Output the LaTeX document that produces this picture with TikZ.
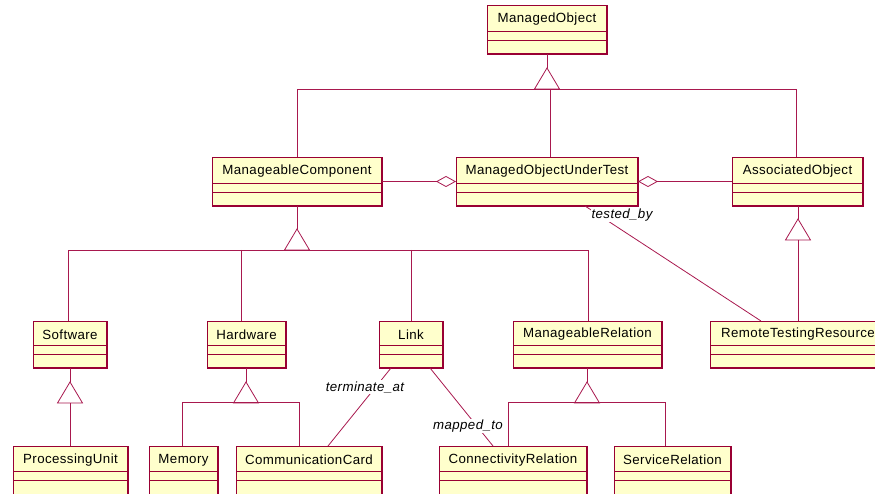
\documentclass[tikz,border=0pt]{standalone}
\usepackage{fontspec}
\setmainfont{Liberation Sans}[LetterSpace=3]
\usetikzlibrary{arrows.meta,calc}
\definecolor{bord}{RGB}{153,0,51}
\definecolor{lcol}{RGB}{168,24,78}
\definecolor{cfill}{RGB}{255,255,204}
\tikzset{
  cls/.style={draw=bord, fill=cfill, line width=0.8pt, rectangle, inner sep=0pt, outer sep=0pt},
  divline/.style={draw=bord, line width=0.8pt},
  edgeline/.style={draw=bord, line width=1.6pt},
  ctext/.style={font=\fontsize{13.3}{15}\selectfont, text=black, inner sep=0pt},
  conn/.style={draw=lcol, line width=0.8pt},
  gentri/.style={draw=lcol, line width=0.8pt, fill=white},
  agg/.style={conn, -{Diamond[open, fill=white, length=20pt, width=11pt]}},
  lab/.style={font=\fontsize{13.3}{15}\selectfont\itshape, text=black, fill=white, inner sep=1pt},
}
% name, x1, y1, x2, y2, first divider y, text
\newcommand\umlclass[7]{%
  \node[cls, anchor=north west, minimum width={(#4-(#2))*1pt}, minimum height={(#5-(#3))*1pt}] (#1) at (#2,#3) {};
  \draw[divline] (#2,#6) -- (#4,#6);
  \draw[divline] (#2,{#6+9}) -- (#4,{#6+9});
  \draw[edgeline] (#1.south west) -- (#1.south east) -- (#1.north east);
  \node[ctext] (#1-t) at ([yshift={-(#6-(#3))/2*1pt-1.5pt}]#1.north) {#7};
}
% apex name, x, y : open triangle pointing up, apex at (x,y), base 21 lower
\newcommand\gentriangle[3]{%
  \coordinate (#1) at (#2,#3);
  \draw[gentri] (#1) -- ++(-12.5,21) coordinate (#1-bl) -- ++(25,0) coordinate (#1-br) -- cycle;
  \coordinate (#1-base) at (#2,{#3+21});
}
\begin{document}
\begin{tikzpicture}[x=1pt,y=-1pt]
\useasboundingbox (0,0) rectangle (875,494);
\clip (0,0) rectangle (875,494);

% classes
\umlclass{mo}{487}{5}{607}{54}{31}{ManagedObject}
\umlclass{mc}{212}{157}{382}{206}{183}{ManageableComponent}
\umlclass{mout}{456}{157}{638}{206}{183}{ManagedObjectUnderTest}
\umlclass{ao}{732}{157}{863}{206}{183}{AssociatedObject}
\umlclass{sw}{33}{321}{107}{368}{345}{Software}
\umlclass{hw}{207}{321}{286}{368}{345}{Hardware}
\umlclass{lk}{379}{321}{443}{368}{345}{Link}
\umlclass{mr}{513}{321}{662}{368}{345}{ManageableRelation}
\umlclass{rtr}{710}{321}{886}{368}{345}{RemoteTestingResource}
\umlclass{pu}{13}{446}{128}{510}{471}{ProcessingUnit}
\umlclass{mem}{149}{446}{218}{510}{471}{Memory}
\umlclass{cc}{236}{446}{382}{510}{471}{CommunicationCard}
\umlclass{cr}{439}{446}{587}{510}{471}{ConnectivityRelation}
\umlclass{sr}{614}{446}{731}{510}{471}{ServiceRelation}

% generalization to ManagedObject
\draw[conn] (mo.south) -- ++(0,14);
\gentriangle{tA}{547}{68}
\draw[conn] (mc.north) -- (mc.north |- tA-base) -- (796,89) -- (796,157);
\draw[conn] (550,89) -- (550,157);

% aggregations
\draw[agg] (mc.east) -- (mout.west);
\draw[agg] (ao.west) -- (mout.east);

% generalization to AssociatedObject
\draw[conn] (ao.south -| 798,0) -- (798,219);
\gentriangle{tB}{798}{219}
\draw[conn] (tB-base) -- (798,321);

% generalization to ManageableComponent
\draw[conn] (mc.south) -- ++(0,23);
\gentriangle{tC}{297}{229}
\draw[conn] (68,321) -- (68,250) -- (588,250) -- (588,321);
\draw[conn] (241,250) -- (241,321);
\draw[conn] (411,250) -- (411,321);

% Software
\draw[conn] (sw.south -| 70,0) -- (70,382);
\gentriangle{tD}{70}{382}
\draw[conn] (tD-base) -- (70,446);

% Hardware
\draw[conn] (hw.south -| 246,0) -- (246,382);
\gentriangle{tE}{246}{382}
\draw[conn] (182,446) -- (182,402) -- (299,402) -- (299,446);

% ManageableRelation
\draw[conn] (mr.south -| 587,0) -- (587,382);
\gentriangle{tF}{587}{382}
\draw[conn] (508,446) -- (508,402) -- (665,402) -- (665,446);

% associations
\coordinate (tbs) at (585,206);
\coordinate (tbe) at (761,321);
\draw[conn] (tbs) -- (tbe);
\node[lab] (ltb) at (622,215) {tested\_by};

\coordinate (tas) at (391,368);
\coordinate (tae) at (328,446);
\draw[conn] (tas) -- (tae);
\node[lab] (lta) at (365,387) {terminate\_at};

\coordinate (mts) at (430,368);
\coordinate (mte) at (493,446);
\draw[conn] (mts) -- (mte);
\node[lab] (lmt) at (468,426) {mapped\_to};
\end{tikzpicture}
\end{document}
